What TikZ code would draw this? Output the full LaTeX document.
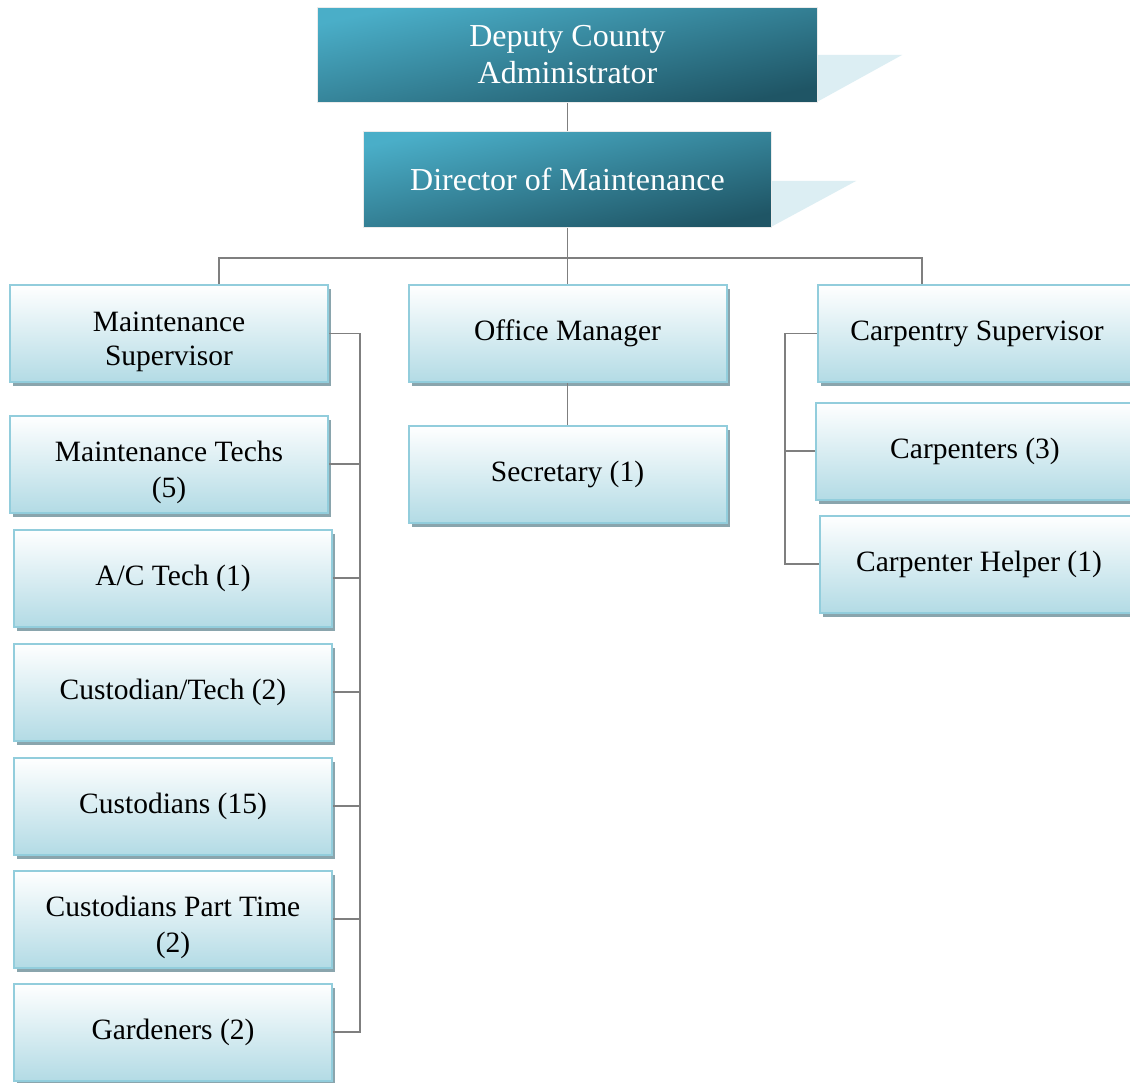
\documentclass[tikz,border=0pt]{standalone}
\usepackage{fontspec}
\setmainfont{Liberation Serif}
\usetikzlibrary{shadows}
\definecolor{topA}{HTML}{4AAEC8}
\definecolor{topB}{HTML}{1F5565}
\definecolor{subB}{HTML}{B3DBE5}
\definecolor{subBorder}{HTML}{92CDDC}
\definecolor{shad}{HTML}{8AA5AD}
\definecolor{wedgec}{HTML}{DCEEF3}
\definecolor{conn}{HTML}{7F7F7F}
\newcommand\dstrut{\rule{0pt}{37pt}}
\begin{document}
\begin{tikzpicture}[x=1pt,y=-1pt,
 topbox/.style={draw=white!92!black, line width=1.5pt, top color=topA, bottom color=topB, shading angle=12,
   text=white, font=\fontsize{32}{37}\selectfont, align=center, inner sep=0pt},
 subbox/.style={draw=subBorder, line width=2pt, top color=white, bottom color=subB,
   drop shadow={shadow xshift=3pt, shadow yshift=-4pt, fill=shad, opacity=1},
   minimum width=318pt, minimum height=97pt, font=\fontsize{29.5}{36}\selectfont, align=center, inner sep=0pt},
 link/.style={draw=conn, line width=1.5pt},
 wedge/.style={fill=wedgec, draw=none}]
\useasboundingbox (0,0) rectangle (1130,1083);
\clip (0,0) rectangle (1130,1083);
\fill[white] (0,0) rectangle (1130,1083);

% decorative wedges
\fill[wedgec] (815,55) -- (902,55) -- (815,103) -- cycle;
\fill[wedgec] (769,181) -- (856,181) -- (769,228) -- cycle;

% top boxes
\node[topbox, minimum width=500pt, minimum height=95pt] (dep) at (567.5,55) {Deputy County\\Administrator};
\node[topbox, minimum width=408pt, minimum height=96pt] (dir) at (567.5,179.5) {Director of Maintenance};

% subordinate boxes
\node[subbox] (ms) at (169,333.5) {\dstrut Maintenance\\[-2pt]Supervisor};
\node[subbox] (om) at (567.5,333.5) {Office Manager};
\node[subbox] (cs) at (977,333.5) {Carpentry Supervisor};
\node[subbox] (mt) at (169,464) {\dstrut Maintenance Techs\\(5)};
\node[subbox] (ac) at (173,578) {A/C Tech (1)};
\node[subbox] (ct) at (173,692) {Custodian/Tech (2)};
\node[subbox] (cu) at (173,806) {Custodians (15)};
\node[subbox] (cp) at (173,919) {\dstrut Custodians Part Time\\(2)};
\node[subbox] (ga) at (173,1032) {Gardeners (2)};
\node[subbox] (sec) at (567.5,474) {Secretary (1)};
\node[subbox] (cps) at (975,451) {Carpenters (3)};
\node[subbox] (ch) at (979,564) {Carpenter Helper (1)};

% connectors
\coordinate (bl) at (219,258);
\coordinate (br) at (922,258);
\coordinate (lb) at (360,0);
\coordinate (rb) at (785,0);
\draw[link] (dep.south) -- (dir.north);
\draw[link] (dir.south) -- (om.north);
\draw[link] (bl |- ms.north) -- (bl) -- (br) -- (br |- cs.north);
\draw[link] (om.south) -- (sec.north);
\draw[link] (ms.east) -- (ms.east -| lb) -- (ga.east -| lb) -- (ga.east);
\draw[link] (mt.east) -- (mt.east -| lb);
\draw[link] (ac.east) -- (ac.east -| lb);
\draw[link] (ct.east) -- (ct.east -| lb);
\draw[link] (cu.east) -- (cu.east -| lb);
\draw[link] (cp.east) -- (cp.east -| lb);
\draw[link] (cs.west) -- (cs.west -| rb) -- (ch.west -| rb) -- (ch.west);
\draw[link] (cps.west) -- (cps.west -| rb);
\end{tikzpicture}
\end{document}
